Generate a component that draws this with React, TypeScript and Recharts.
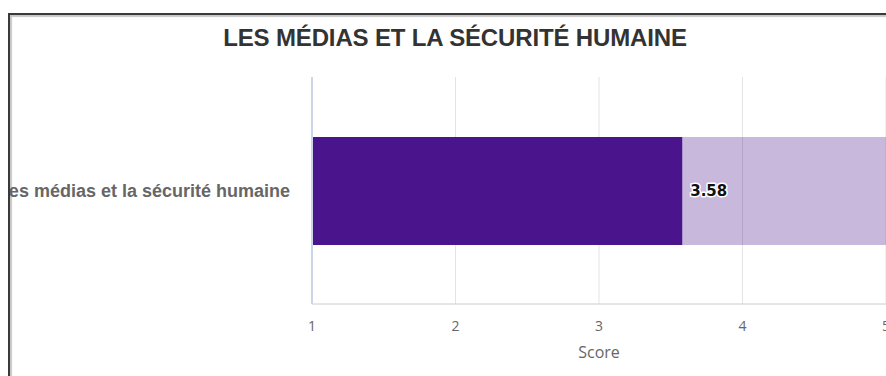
import React from "react";
import { BarChart, Bar, XAxis, YAxis, CartesianGrid, LabelList } from "recharts";

const categories = ["Les médias et la sécurité humaine"];
const scores = [3.58];
const xTicks = [1, 2, 3, 4, 5];
const chartTitle = "LES MÉDIAS ET LA SÉCURITÉ HUMAINE";
const axisTitle = "Score";

const data = categories.map((c, i) => ({ name: c, score: scores[i] }));

const ValueLabel = (props: any) => {
  const { x, y, width, height, value } = props;
  return (
    <text
      x={Number(x) + Number(width) + 8}
      y={Number(y) + Number(height) / 2}
      dominantBaseline="central"
      textAnchor="start"
      fontFamily="DejaVu Sans"
      fontWeight="bold"
      fontSize={15}
      fill="#111"
      stroke="#ffffff"
      strokeWidth={3}
      strokeLinejoin="round"
      paintOrder="stroke"
    >
      {Number(value).toFixed(2)}
    </text>
  );
};

export default function App() {
  return (
    <div
      style={{
        position: "fixed",
        left: 0,
        top: 0,
        width: 886,
        height: 376,
        overflow: "hidden",
        background: "#fff",
      }}
    >
      <div
        style={{
          position: "absolute",
          left: 8,
          top: 13,
          width: 892,
          height: 420,
          boxSizing: "border-box",
          borderLeft: "2px solid #3a3a3a",
          borderTop: "2px solid #3a3a3a",
          boxShadow: "inset 2px 2px 1px rgba(0,0,0,0.22)",
          background: "#fff",
          overflow: "hidden",
        }}
      >
        <div
          style={{
            position: "absolute",
            left: 0,
            right: 0,
            top: 11,
            textAlign: "center",
            fontFamily: "'Liberation Sans', Arial, sans-serif",
            fontWeight: "bold",
            fontSize: 24,
            lineHeight: "24px",
            letterSpacing: -0.15,
            color: "#333",
          }}
        >
          {chartTitle}
        </div>
        <BarChart
          layout="vertical"
          width={890}
          height={361}
          data={data}
          margin={{ top: 62, right: 14, bottom: 12, left: 0 }}
        >
          <CartesianGrid horizontal={false} stroke="#e3e3e3" />
          <XAxis
            xAxisId="top"
            orientation="top"
            type="number"
            domain={[1, 5]}
            ticks={xTicks}
            tick={false}
            tickLine={false}
            height={0}
            axisLine={{ stroke: "#dcdcdc", strokeWidth: 2 }}
          />
          <XAxis
            type="number"
            domain={[1, 5]}
            ticks={xTicks}
            tickLine={false}
            tickSize={0}
            tickMargin={17}
            height={60}
            axisLine={{ stroke: "#cccccc" }}
            tick={{ fill: "#666", fontSize: 14, fontFamily: "Open Sans" }}
            label={{
              value: axisTitle,
              position: "insideBottom",
              offset: 6,
              fill: "#666",
              fontSize: 16,
              fontFamily: "Open Sans",
            }}
          />
          <YAxis
            type="category"
            dataKey="name"
            width={302}
            tickLine={false}
            tickSize={0}
            tickMargin={22}
            axisLine={{ stroke: "#ccd6eb", strokeWidth: 2 }}
            tick={{
              fill: "#666",
              fontSize: 18,
              fontWeight: "bold",
              fontFamily: "Liberation Sans",
            }}
          />
          <Bar
            dataKey="score"
            fill="#4a148c"
            barSize={108}
            background={{ fill: "#4a148c", fillOpacity: 0.3 }}
            isAnimationActive={false}
          >
            <LabelList dataKey="score" content={ValueLabel} />
          </Bar>
        </BarChart>
      </div>
    </div>
  );
}
